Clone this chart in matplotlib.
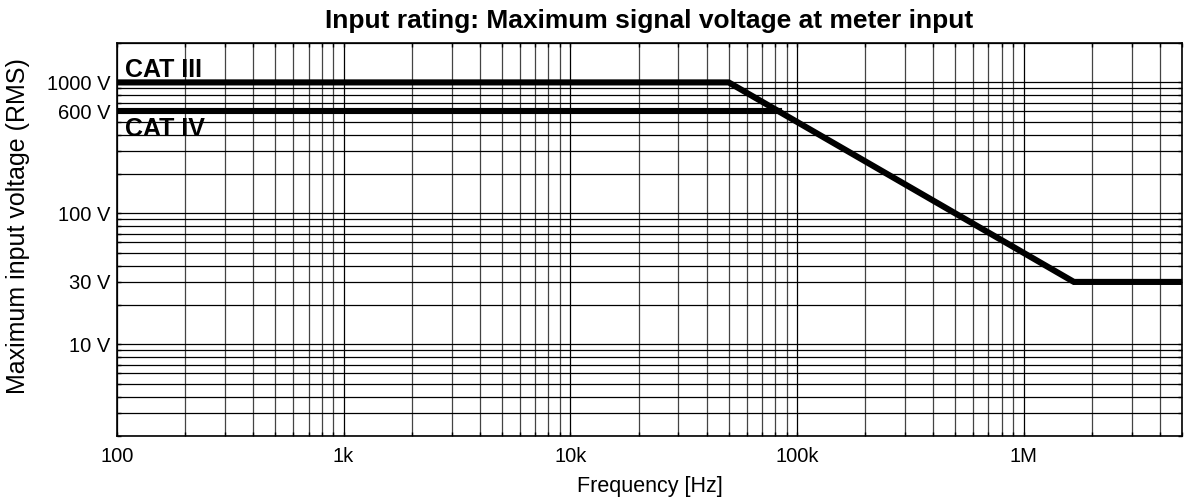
import numpy as np
import matplotlib.pyplot as plt
from matplotlib.ticker import FixedLocator, LogLocator, NullFormatter, FixedFormatter

plt.rcParams['font.family'] = ['Liberation Sans', 'DejaVu Sans']

# CAT III: flat, then -1 slope (V*f = 5e7), then 30 V floor
cat3_freq = [100, 50e3, 1.667e6, 5e6]
cat3_volt = [1000, 1000, 30, 30]
# CAT IV: flat at 600 V until it meets the CAT III slope
cat4_freq = [100, 83.3e3]
cat4_volt = [600, 600]

xticks = [100, 1e3, 1e4, 1e5, 1e6]
xlabels = ['100', '1k', '10k', '100k', '1M']
yticks = [10, 30, 100, 600, 1000]
ylabels = ['10 V', '30 V', '100 V', '600 V', '1000 V']

fig = plt.figure(figsize=(11.85, 4.98), dpi=100)
ax = fig.add_axes([0.0987, 0.1245, 0.8988, 0.7892])

ax.set_xscale('log')
ax.set_yscale('log')
ax.set_xlim(100, 5e6)
ax.set_ylim(2, 2000)

ax.plot(cat3_freq, cat3_volt, color='black', lw=4.4, solid_joinstyle='miter', zorder=3)
ax.plot(cat4_freq, cat4_volt, color='black', lw=4.4, solid_joinstyle='miter', zorder=3)

ax.xaxis.set_major_locator(FixedLocator(xticks))
ax.xaxis.set_major_formatter(FixedFormatter(xlabels))
ax.xaxis.set_minor_locator(LogLocator(base=10, subs=np.arange(2, 10)))
ax.xaxis.set_minor_formatter(NullFormatter())
ax.yaxis.set_major_locator(FixedLocator(yticks))
ax.yaxis.set_major_formatter(FixedFormatter(ylabels))
ax.yaxis.set_minor_locator(LogLocator(base=10, subs=np.arange(1, 10)))
ax.yaxis.set_minor_formatter(NullFormatter())

ax.grid(True, which='major', color='black', lw=0.9)
ax.yaxis.grid(True, which='minor', color='black', lw=0.9)
ax.xaxis.grid(True, which='minor', color='#444444', lw=0.9)
ax.tick_params(which='both', direction='in', top=True, right=True,
               length=3, width=1, labelsize=14.5)
ax.tick_params(axis='x', which='major', pad=8)
ax.tick_params(axis='y', which='major', pad=5)
for s in ax.spines.values():
    s.set_linewidth(1.2)

ax.text(108, 1091, 'CAT III', fontsize=18, fontweight='bold', va='baseline', ha='left')
ax.text(108, 387, 'CAT IV', fontsize=18, fontweight='bold', va='baseline', ha='left')

ax.set_title('Input rating: Maximum signal voltage at meter input',
             fontsize=19, fontweight='bold', pad=11)
ax.set_xlabel('Frequency [Hz]', fontsize=15.5, labelpad=7)
ax.set_ylabel('Maximum input voltage (RMS)', fontsize=18)
ax.yaxis.set_label_coords(-0.082, 0.535)

fig.savefig('out.png', dpi=100)
